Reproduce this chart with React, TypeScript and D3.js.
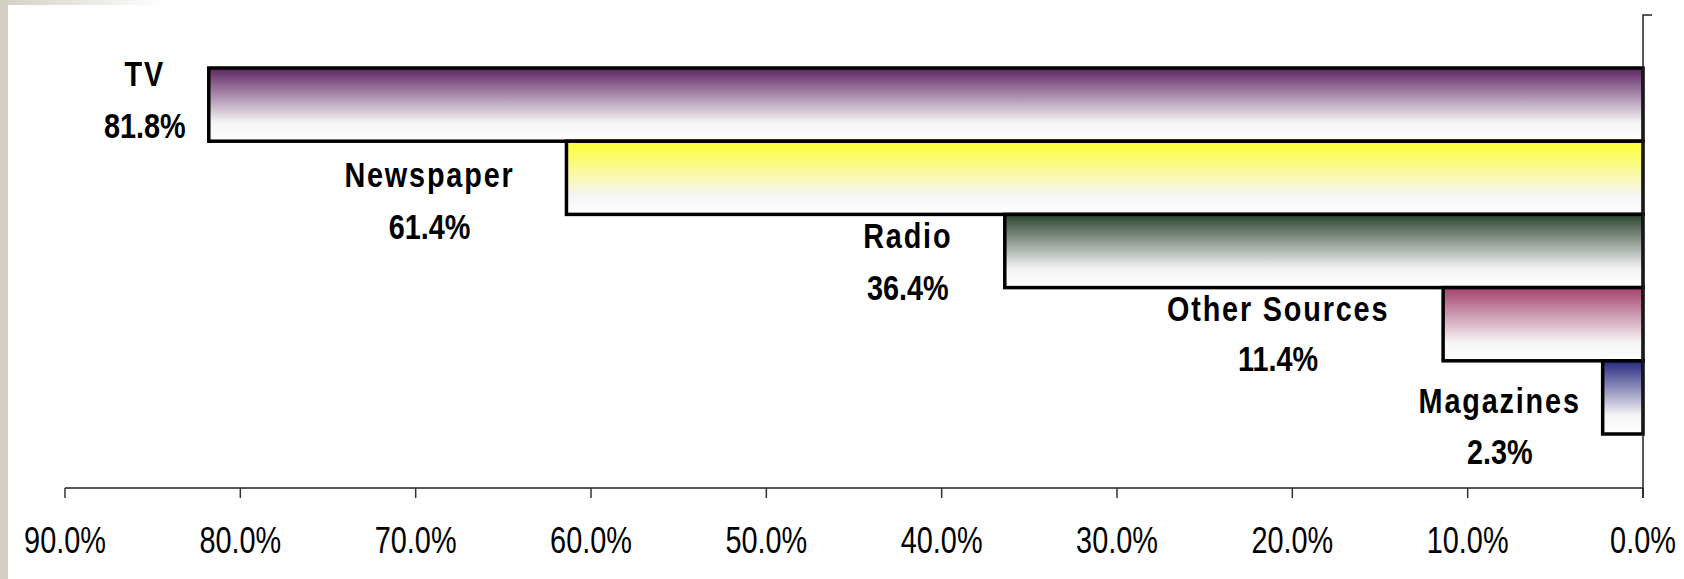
import { useEffect, useRef } from 'react';
import * as d3 from 'd3';

const categories = ['TV', 'Newspaper', 'Radio', 'Other Sources', 'Magazines'];
const values = [81.8, 61.4, 36.4, 11.4, 2.3];
const barColors = ['#5f2462', '#ffff33', '#2c4430', '#a3416c', '#26287e'];
const tickValues = [90, 80, 70, 60, 50, 40, 30, 20, 10, 0];

// hand placed data labels (px offsets from the bar's left end / band centre)
const labelDx = [-64, -137, -97, -165, -103];
const nameDy = [-32, -4, -16, -16, 3];
const valueDy = [20, 48, 36, 34, 54];

const W = 1684;
const H = 579;
const FONT = 'Arial, "Liberation Sans", sans-serif';
const SX = 0.78;
const SXB = 0.8;

export default function App() {
  const svgRef = useRef<SVGSVGElement>(null);

  useEffect(() => {
    if (!svgRef.current) return;
    const svg = d3.select(svgRef.current);
    svg.selectAll('*').remove();

    const x = d3.scaleLinear().domain([90, 0]).range([65, 1643]);
    const y = d3.scaleBand<string>().domain(categories).range([68, 434]).padding(0);
    const axisY = 488;

    const defs = svg.append('defs');
    barColors.forEach((c, i) => {
      const lg = defs.append('linearGradient')
        .attr('id', `grad${i}`)
        .attr('x1', 0).attr('y1', 0).attr('x2', 0).attr('y2', 1);
      lg.append('stop').attr('offset', '0%').attr('stop-color', c);
      lg.append('stop').attr('offset', '75%').attr('stop-color', '#f6f5f6');
      lg.append('stop').attr('offset', '100%').attr('stop-color', '#ffffff');
    });
    const topGrad = defs.append('linearGradient').attr('id', 'topStrip');
    topGrad.append('stop').attr('offset', '0%').attr('stop-color', '#d3cfc3');
    topGrad.append('stop').attr('offset', '100%').attr('stop-color', '#ffffff');

    svg.append('rect').attr('width', W).attr('height', H).attr('fill', '#ffffff');
    svg.append('rect').attr('x', 0).attr('y', 0).attr('width', 165).attr('height', 5).attr('fill', 'url(#topStrip)');
    svg.append('rect').attr('x', 0).attr('y', 0).attr('width', 8).attr('height', H).attr('fill', '#d3cfc3');

    // bars
    svg.append('g')
      .selectAll('rect')
      .data(values)
      .join('rect')
      .attr('x', d => x(d))
      .attr('y', (_, i) => y(categories[i])!)
      .attr('width', d => x(0) - x(d))
      .attr('height', y.bandwidth())
      .attr('fill', (_, i) => `url(#grad${i})`)
      .attr('stroke', '#000')
      .attr('stroke-width', 3.5);

    // x axis
    const ax = svg.append('g');
    ax.append('line')
      .attr('x1', x(90)).attr('x2', x(0))
      .attr('y1', axisY).attr('y2', axisY)
      .attr('stroke', '#555').attr('stroke-width', 2);
    tickValues.forEach(t => {
      ax.append('line')
        .attr('x1', x(t)).attr('x2', x(t))
        .attr('y1', axisY).attr('y2', axisY + 10)
        .attr('stroke', '#333').attr('stroke-width', 1.5);
      ax.append('text')
        .attr('transform', `translate(${x(t)},${540 + 13}) scale(${SX},1)`)
        .attr('text-anchor', 'middle')
        .attr('font-family', FONT)
        .attr('font-size', 37)
        .attr('fill', '#000')
        .text(`${t.toFixed(1)}%`);
    });

    // y axis
    svg.append('path')
      .attr('d', `M${x(0) + 9},15 H${x(0)} V${axisY + 10}`)
      .attr('fill', 'none')
      .attr('stroke', '#222')
      .attr('stroke-width', 1.5);

    // labels
    const lab = svg.append('g')
      .attr('font-family', FONT)
      .attr('font-weight', 'bold')
      .attr('font-size', 36)
      .attr('text-anchor', 'middle')
      .attr('fill', '#000');
    categories.forEach((c, i) => {
      const cx = x(values[i]) + labelDx[i];
      const cy = y(c)! + y.bandwidth() / 2;
      lab.append('text')
        .attr('transform', `translate(${cx},${cy + nameDy[i] + 13}) scale(${SXB},1)`)
        .attr('letter-spacing', 2.3)
        .text(c);
      lab.append('text')
        .attr('transform', `translate(${cx},${cy + valueDy[i] + 13}) scale(${SXB},1)`)
        .text(`${values[i].toFixed(1)}%`);
    });
  }, []);

  return (
    <svg
      ref={svgRef}
      width={W}
      height={H}
      style={{ position: 'absolute', left: 0, top: 0, display: 'block' }}
    />
  );
}
